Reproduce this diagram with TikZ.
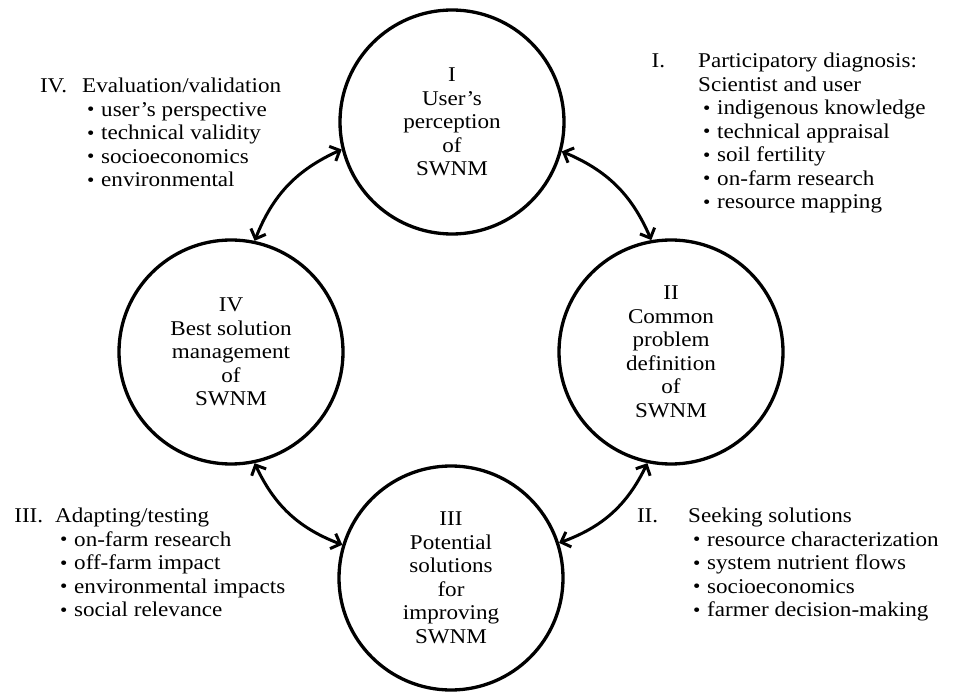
\documentclass[tikz,border=0pt]{standalone}
\usepackage{fontspec}
\setmainfont{Liberation Serif}[FakeStretch=1.1]
\usetikzlibrary{arrows.meta}
\newcommand{\itm}{\hspace{5pt}\makebox[14pt][l]{\raisebox{0.5pt}{\fontsize{19}{19}\selectfont\textbullet}}}

\begin{document}
\begin{tikzpicture}[
		x=1pt,y=1pt,
		every node/.style={font=\fontsize{21}{23.5}\selectfont},
		phase/.style={draw,circle,line width=3.3pt,minimum size=224pt,inner sep=0pt,align=center},
		notes/.style={anchor=north west,inner sep=0pt,align=left},
		cycle/.style={line width=3pt,{Straight Barb[length=8pt,width=16pt]}-{Straight Barb[length=8pt,width=16pt]}}
		]
		\useasboundingbox (0,0) rectangle (958,697);
		% the four stages
		\node[phase] (user) at (452,575) {I\\User's\\perception\\of\\SWNM};
		\node[phase] (common) at (671,345) {II\\Common\\problem\\definition\\of\\SWNM};
		\node[phase] (potential) at (451,119) {III\\Potential\\solutions\\for\\improving\\SWNM};
		\node[phase] (best) at (231,345) {IV\\Best solution\\management\\of\\SWNM};
		\draw[cycle] (best.78) to[bend left=22] (user.194);
		\draw[cycle] (user.345) to[bend left=22] (common.100);
		\draw[cycle] (common.258) to[bend left=22] (potential.18);
		\draw[cycle] (potential.163) to[bend left=22] (best.282);
		% notes
		\node[notes] (evalnotes) at (82,619)
		{
			\llap{IV.\hspace{15pt}}Evaluation/validation\\
			\itm user's perspective\\
			\itm technical validity\\
			\itm socioeconomics\\
			\itm environmental
		};
		\node[notes] (diagnotes) at (698,644)
		{
			\llap{I.\hspace{33pt}}Participatory diagnosis:\\
			Scientist and user\\
			\itm indigenous knowledge\\
			\itm technical appraisal\\
			\itm soil fertility\\
			\itm on-farm research\\
			\itm resource mapping
		};
		\node[notes] (adaptnotes) at (55,189)
		{
			\llap{III.\hspace{12pt}}Adapting/testing\\
			\itm on-farm research\\
			\itm off-farm impact\\
			\itm environmental impacts\\
			\itm social relevance
		};
		\node[notes] (seeknotes) at (688,189)
		{
			\llap{II.\hspace{30pt}}Seeking solutions\\
			\itm resource characterization\\
			\itm system nutrient flows\\
			\itm socioeconomics\\
			\itm farmer decision-making
		};
	\end{tikzpicture}
\end{document}
